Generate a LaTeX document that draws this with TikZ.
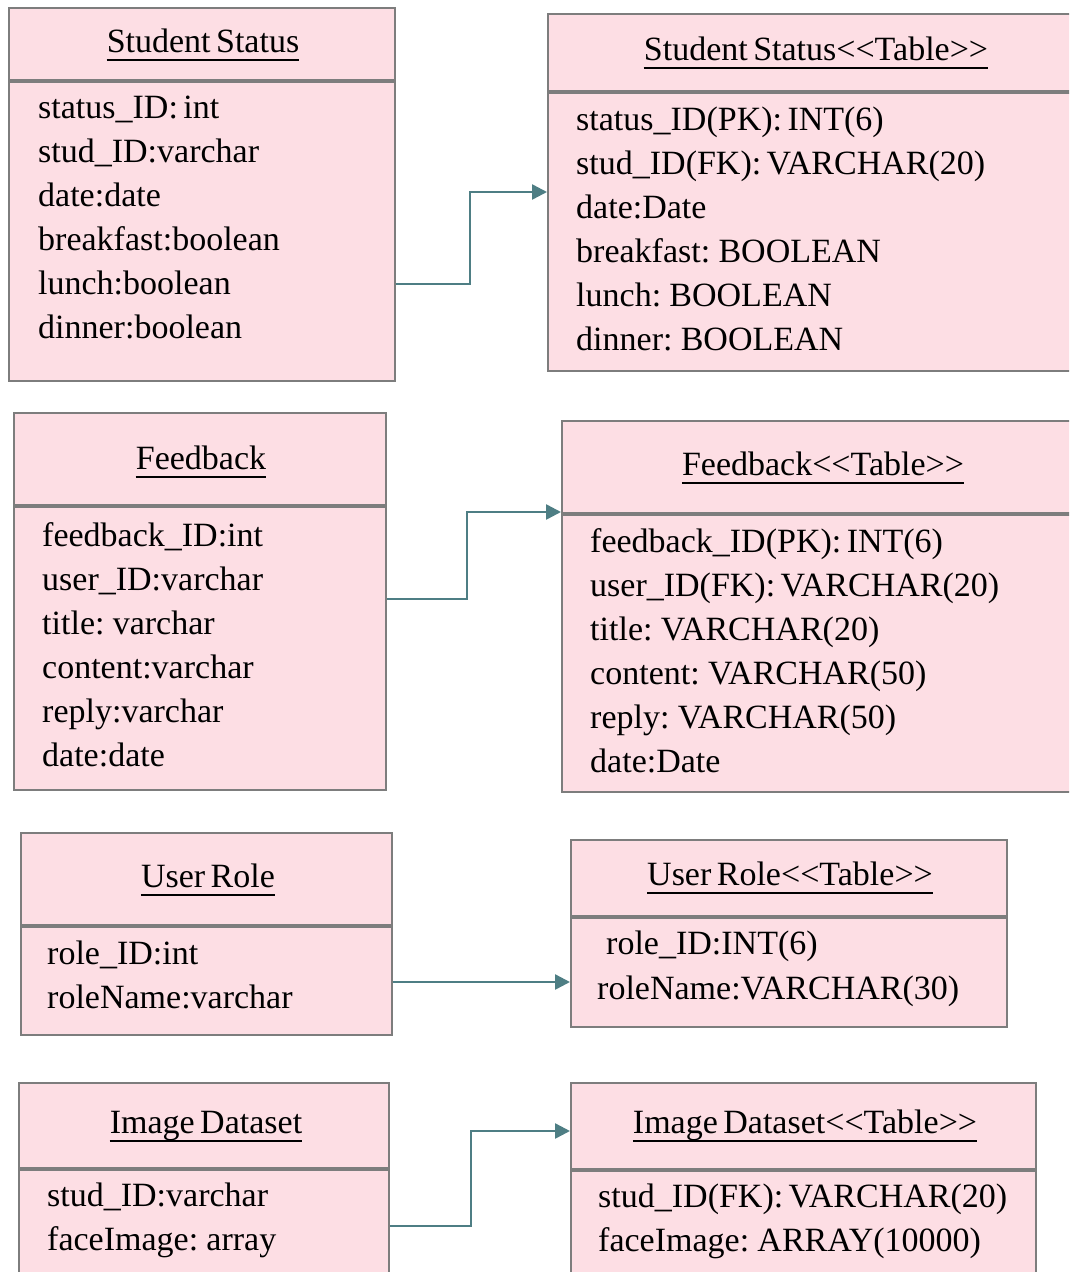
\documentclass[tikz,border=0pt]{standalone}
\usepackage{fontspec}
\setmainfont{Liberation Serif}
\usetikzlibrary{arrows.meta}
\definecolor{boxfill}{RGB}{253,222,228}
\definecolor{boxline}{RGB}{125,125,125}
\definecolor{linkcol}{RGB}{78,126,132}
% guillemet-free stereotype marks
\newcommand{\stereo}[1]{<\kern0pt<#1>\kern0pt>}
% tight serif text used for every label
\newcommand{\umltext}{\fontsize{34}{40}\selectfont\spaceskip=0.16em plus 0.05em\relax}
\begin{document}
\begin{tikzpicture}[x=1pt,y=-1pt,
  part/.style={rectangle,draw=boxline,fill=boxfill,line width=1.8pt,inner sep=0pt,anchor=north west},
  ttl/.style={anchor=base,inner sep=0pt,font=\umltext},
  row/.style={anchor=base west,inner sep=0pt,font=\umltext},
  uline/.style={line width=1.8pt,black},
  fk/.style={draw=linkcol,line width=2.5pt,-{Triangle[length=15pt,width=15pt]}}]
\useasboundingbox (0,0) rectangle (1069,1272);
\fill[white] (0,0) rectangle (1069,1272);
\clip (0,0) rectangle (1069,1272);

% ---------- Student Status (class) ----------
\node[part,minimum width=386pt,minimum height=72pt] (ssH) at (8,7) {};
\node[part,minimum width=386pt,minimum height=299pt] (ssB) at (ssH.south west) {};
\node[ttl] (ssT) at (203,52) {Student Status};
\draw[uline] ([yshift=-8pt]ssT.base west) -- ([yshift=-8pt]ssT.base east);
\node[row] (ss1) at (38,118) {status\_ID: int};
\node[row] (ss2) at (38,162) {stud\_ID:varchar};
\node[row] (ss3) at (38,206) {date:date};
\node[row] (ss4) at (38,250) {breakfast:boolean};
\node[row] (ss5) at (38,294) {lunch:boolean};
\node[row] (ss6) at (38,338) {dinner:boolean};

% ---------- Student Status (table), running past the right edge ----------
\node[part,minimum width=600pt,minimum height=77pt] (strH) at (547,13) {};
\node[part,minimum width=600pt,minimum height=278pt] (strB) at (strH.south west) {};
\node[ttl] (strT) at (816,60) {Student Status\stereo{Table}};
\draw[uline] ([yshift=-8pt]strT.base west) -- ([yshift=-8pt]strT.base east);
\node[row] (str1) at (576,130) {status\_ID(PK): INT(6)};
\node[row] (str2) at (576,174) {stud\_ID(FK): VARCHAR(20)};
\node[row] (str3) at (576,218) {date:Date};
\node[row] (str4) at (576,262) {breakfast: BOOLEAN};
\node[row] (str5) at (576,306) {lunch: BOOLEAN};
\node[row] (str6) at (576,350) {dinner: BOOLEAN};

% ---------- Feedback (class) ----------
\node[part,minimum width=372pt,minimum height=92pt] (fbH) at (13,412) {};
\node[part,minimum width=372pt,minimum height=283pt] (fbB) at (fbH.south west) {};
\node[ttl] (fbT) at (201,469) {Feedback};
\draw[uline] ([yshift=-8pt]fbT.base west) -- ([yshift=-8pt]fbT.base east);
\node[row] (fb1) at (42,546) {feedback\_ID:int};
\node[row] (fb2) at (42,590) {user\_ID:varchar};
\node[row] (fb3) at (42,634) {title: varchar};
\node[row] (fb4) at (42,678) {content:varchar};
\node[row] (fb5) at (42,722) {reply:varchar};
\node[row] (fb6) at (42,766) {date:date};

% ---------- Feedback (table), running past the right edge ----------
\node[part,minimum width=600pt,minimum height=92pt] (fbrH) at (561,420) {};
\node[part,minimum width=600pt,minimum height=277pt] (fbrB) at (fbrH.south west) {};
\node[ttl] (fbrT) at (823,475) {Feedback\stereo{Table}};
\draw[uline] ([yshift=-8pt]fbrT.base west) -- ([yshift=-8pt]fbrT.base east);
\node[row] (fbr1) at (590,552) {feedback\_ID(PK): INT(6)};
\node[row] (fbr2) at (590,596) {user\_ID(FK): VARCHAR(20)};
\node[row] (fbr3) at (590,640) {title: VARCHAR(20)};
\node[row] (fbr4) at (590,684) {content: VARCHAR(50)};
\node[row] (fbr5) at (590,728) {reply: VARCHAR(50)};
\node[row] (fbr6) at (590,772) {date:Date};

% ---------- User Role (class) ----------
\node[part,minimum width=371pt,minimum height=92pt] (urH) at (20,832) {};
\node[part,minimum width=371pt,minimum height=108pt] (urB) at (urH.south west) {};
\node[ttl] (urT) at (208,887) {User Role};
\draw[uline] ([yshift=-8pt]urT.base west) -- ([yshift=-8pt]urT.base east);
\node[row] (ur1) at (47,964) {role\_ID:int};
\node[row] (ur2) at (47,1008) {roleName:varchar};

% ---------- User Role (table) ----------
\node[part,minimum width=436pt,minimum height=76pt] (urrH) at (570,839) {};
\node[part,minimum width=436pt,minimum height=109pt] (urrB) at (urrH.south west) {};
\node[ttl] (urrT) at (790,885) {User Role\stereo{Table}};
\draw[uline] ([yshift=-8pt]urrT.base west) -- ([yshift=-8pt]urrT.base east);
\node[row] (urr1) at (606,954) {role\_ID:INT(6)};
\node[row] (urr2) at (597,999) {roleName:VARCHAR(30)};

% ---------- Image Dataset (class) ----------
\node[part,minimum width=370pt,minimum height=85pt] (idH) at (18,1082) {};
\node[part,minimum width=370pt,minimum height=140pt] (idB) at (idH.south west) {};
\node[ttl] (idT) at (206,1133) {Image Dataset};
\draw[uline] ([yshift=-8pt]idT.base west) -- ([yshift=-8pt]idT.base east);
\node[row] (id1) at (47,1206) {stud\_ID:varchar};
\node[row] (id2) at (47,1250) {faceImage: array};

% ---------- Image Dataset (table) ----------
\node[part,minimum width=465pt,minimum height=86pt] (idrH) at (570,1082) {};
\node[part,minimum width=465pt,minimum height=140pt] (idrB) at (idrH.south west) {};
\node[ttl] (idrT) at (805,1133) {Image Dataset\stereo{Table}};
\draw[uline] ([yshift=-8pt]idrT.base west) -- ([yshift=-8pt]idrT.base east);
\node[row] (idr1) at (598,1207) {stud\_ID(FK): VARCHAR(20)};
\node[row] (idr2) at (598,1251) {faceImage: ARRAY(10000)};

% ---------- mappings class -> table ----------
\draw[fk] (ssB.east |- 0,284) -- (470,284) |- (strB.west |- 0,192);
\draw[fk] (fbB.east |- 0,599) -- (467,599) |- (fbrB.west |- 0,512);
\draw[fk] (urB.east |- 0,982) -- (urrB.west |- 0,982);
\draw[fk] (idB.east |- 0,1226) -- (471,1226) |- (idrB.west |- 0,1131);
\end{tikzpicture}
\end{document}
